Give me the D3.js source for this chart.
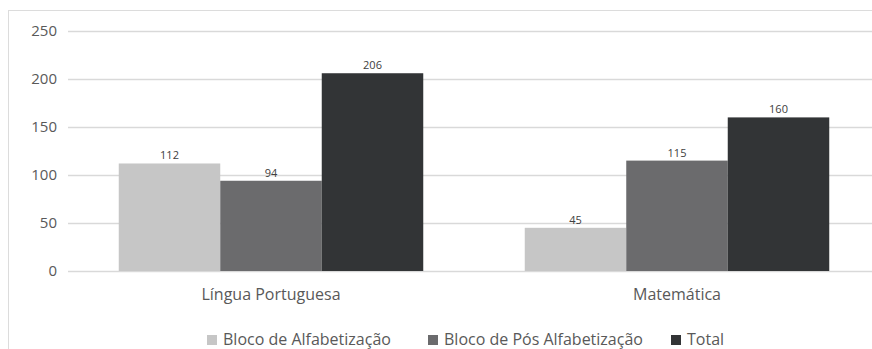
<!DOCTYPE html>
<html><head><meta charset="utf-8">
<script src="https://cdn.jsdelivr.net/npm/d3@7"></script>
<style>body{margin:0;background:#fff}svg{display:block}</style>
</head><body>
<svg id="c" width="872" height="349"></svg>
<script>
const categories = ["Língua Portuguesa", "Matemática"];
const seriesNames = ["Bloco de Alfabetização", "Bloco de Pós Alfabetização", "Total"];
const alfabetizacao = [112, 45];
const posAlfabetizacao = [94, 115];
const total = [206, 160];
const yTicks = [0, 50, 100, 150, 200, 250];
const colors = ["#c6c6c6", "#6b6b6d", "#323436"];

const series = [alfabetizacao, posAlfabetizacao, total];
const svg = d3.select("#c");
const font = "'Open Sans', sans-serif";

svg.append("rect").attr("x", 8.5).attr("y", 10.5).attr("width", 900).attr("height", 400)
  .attr("fill", "none").attr("stroke", "#dcdcdc");

const y = d3.scaleLinear().domain([0, 250]).range([271, 31]);
const x0 = d3.scaleBand().domain(categories).range([68, 880]).paddingInner(0.25).paddingOuter(0.125);
const x1 = d3.scaleBand().domain(d3.range(3)).range([0, x0.bandwidth()]);

const yAxis = d3.axisLeft(y).tickValues(yTicks).tickSize(-(880 - 68)).tickPadding(11);
const gy = svg.append("g").attr("transform", "translate(68,0)").call(yAxis);
gy.select(".domain").remove();
gy.selectAll(".tick line").attr("stroke", "#d9d9d9").attr("stroke-width", 1.3);
gy.selectAll(".tick text").attr("fill", "#595959").style("font-family", font).style("font-size", "15px");

const g = svg.append("g");
categories.forEach((c, i) => {
  series.forEach((s, j) => {
    g.append("rect")
      .attr("x", x0(c) + x1(j)).attr("y", y(s[i]))
      .attr("width", x1.bandwidth()).attr("height", y(0) - y(s[i]))
      .attr("fill", colors[j]);
    g.append("text")
      .attr("x", x0(c) + x1(j) + x1.bandwidth() / 2).attr("y", y(s[i]) - 4)
      .attr("text-anchor", "middle").attr("fill", "#404040")
      .style("font-family", font).style("font-size", "11px")
      .text(s[i]);
  });
});

const xAxis = d3.axisBottom(x0).tickSize(0).tickPadding(18);
const gx = svg.append("g").attr("transform", "translate(0,271)").call(xAxis);
gx.select(".domain").remove();
gx.selectAll(".tick text").attr("fill", "#595959").style("font-family", font).style("font-size", "16px");

const legendX = [207, 428, 671];
const lg = svg.append("g");
seriesNames.forEach((n, j) => {
  lg.append("rect").attr("x", legendX[j]).attr("y", 335).attr("width", 10).attr("height", 10).attr("fill", colors[j]);
  lg.append("text").attr("x", legendX[j] + 16).attr("y", 345)
    .attr("fill", "#595959").style("font-family", font).style("font-size", "16px").text(n);
});
</script>
</body></html>
